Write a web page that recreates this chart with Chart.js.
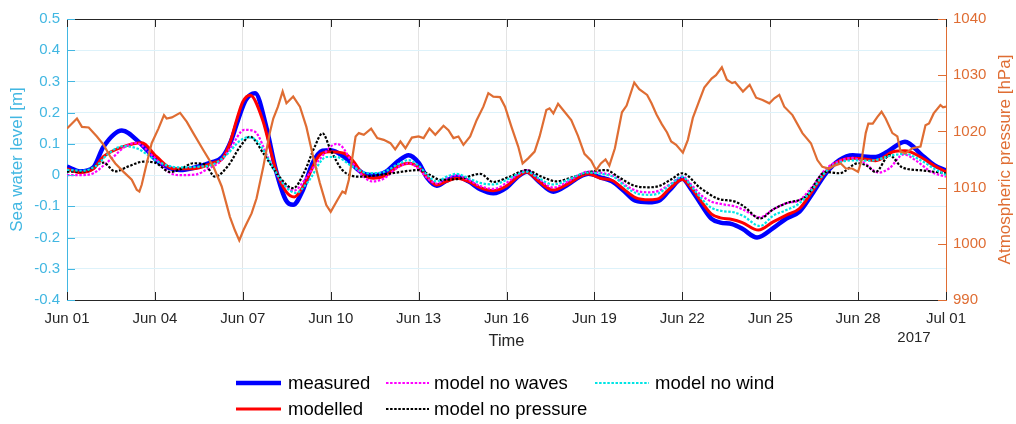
<!DOCTYPE html>
<html>
<head>
<meta charset="utf-8">
<title>Sea water level and atmospheric pressure, June 2017</title>
<script src="https://cdn.jsdelivr.net/npm/chart.js@4/dist/chart.umd.min.js"></script>
<style>
  html, body { margin: 0; padding: 0; background: #ffffff; }
  canvas { display: block; }
</style>
</head>
<body>
<canvas id="chart" width="1016" height="424"></canvas>
<script>
// Time axis: days since 1 June 2017
const xTickDays = [0, 3, 6, 9, 12, 15, 18, 21, 24, 27, 30];
const xTickLabels = ['Jun 01', 'Jun 04', 'Jun 07', 'Jun 10', 'Jun 13', 'Jun 16', 'Jun 19', 'Jun 22', 'Jun 25', 'Jun 28', 'Jul 01'];
const levelTicks = [-0.4, -0.3, -0.2, -0.1, 0, 0.1, 0.2, 0.3, 0.4, 0.5];
const levelTickLabels = ['-0.4', '-0.3', '-0.2', '-0.1', '0', '0.1', '0.2', '0.3', '0.4', '0.5'];
const pressureTicks = [990, 1000, 1010, 1020, 1030, 1040];
const pressureTickLabels = ['990', '1000', '1010', '1020', '1030', '1040'];

// Sea water level [m] as [day, level]
const measured = [[0,0.027],[0.45,0.012],[0.9,0.025],[1.24,0.09],[1.87,0.143],[2.5,0.102],[3.17,0.038],[3.86,0.016],[4.4,0.025],[4.9,0.04],[5.3,0.058],[5.6,0.11],[5.85,0.18],[6.1,0.24],[6.42,0.262],[6.8,0.155],[7.13,0.016],[7.47,-0.08],[7.72,-0.095],[8.04,-0.05],[8.38,0.038],[8.72,0.078],[9.0,0.08],[9.5,0.055],[10.1,0.006],[10.5,0.0],[10.9,0.012],[11.3,0.045],[11.66,0.064],[12.0,0.04],[12.3,-0.01],[12.62,-0.034],[12.95,-0.018],[13.3,-0.005],[13.7,-0.02],[14.1,-0.045],[14.55,-0.058],[15.0,-0.04],[15.35,-0.008],[15.7,0.011],[16.1,-0.02],[16.6,-0.053],[17.1,-0.03],[17.5,-0.005],[17.8,0.004],[18.2,-0.007],[18.6,-0.02],[19.0,-0.05],[19.4,-0.082],[19.85,-0.087],[20.2,-0.082],[20.55,-0.05],[21.0,-0.012],[21.3,-0.045],[21.65,-0.095],[22.0,-0.14],[22.3,-0.152],[22.7,-0.157],[23.05,-0.172],[23.55,-0.2],[24.1,-0.17],[24.55,-0.139],[25.0,-0.117],[25.45,-0.058],[25.9,0.006],[26.36,0.048],[26.82,0.064],[27.2,0.06],[27.6,0.058],[28.0,0.075],[28.6,0.107],[29.2,0.062],[29.6,0.032],[30,0.015]];
const modelled = [[0,0.02],[0.45,0.008],[0.9,0.02],[1.24,0.059],[1.92,0.091],[2.55,0.104],[3.06,0.059],[3.63,0.02],[4.3,0.02],[5.0,0.04],[5.3,0.052],[5.55,0.1],[5.8,0.18],[6.0,0.235],[6.25,0.256],[6.68,0.176],[7.13,0.016],[7.47,-0.052],[7.76,-0.07],[8.1,-0.03],[8.6,0.062],[8.95,0.075],[9.45,0.07],[9.74,0.048],[10.13,0.0],[10.47,-0.01],[10.9,0.0],[11.3,0.028],[11.66,0.038],[12.0,0.025],[12.28,-0.005],[12.62,-0.032],[12.95,-0.02],[13.3,-0.01],[13.7,-0.02],[14.1,-0.04],[14.55,-0.05],[15.0,-0.035],[15.35,-0.008],[15.68,0.01],[16.1,-0.02],[16.59,-0.048],[17.1,-0.028],[17.5,-0.005],[17.78,0.004],[18.2,-0.01],[18.63,-0.018],[19.0,-0.045],[19.4,-0.072],[19.87,-0.079],[20.2,-0.075],[20.55,-0.045],[21.0,-0.014],[21.3,-0.04],[21.65,-0.085],[22.0,-0.125],[22.3,-0.137],[22.7,-0.142],[23.05,-0.152],[23.6,-0.176],[24.1,-0.15],[24.55,-0.128],[25.0,-0.107],[25.45,-0.05],[25.9,0.011],[26.36,0.045],[26.82,0.054],[27.2,0.052],[27.6,0.046],[28.2,0.075],[28.6,0.078],[29.2,0.054],[29.6,0.03],[30,0.011]];
const modelNoWaves = [[0,0.0],[0.5,0.0],[0.9,0.006],[1.3,0.035],[1.6,0.06],[2.0,0.092],[2.35,0.103],[2.95,0.059],[3.5,0.008],[3.9,0.0],[4.4,0.002],[4.8,0.02],[5.22,0.043],[5.6,0.09],[6.05,0.145],[6.4,0.14],[6.9,0.048],[7.25,-0.01],[7.75,-0.05],[8.15,-0.01],[8.6,0.048],[9.2,0.1],[9.4,0.09],[9.7,0.045],[10.13,-0.005],[10.4,-0.02],[10.8,-0.012],[11.3,0.025],[11.66,0.038],[12.0,0.02],[12.3,-0.01],[12.62,-0.027],[12.95,-0.01],[13.3,0.0],[13.7,-0.015],[14.1,-0.035],[14.55,-0.044],[15.0,-0.025],[15.35,0.0],[15.68,0.016],[16.1,-0.012],[16.59,-0.04],[17.1,-0.02],[17.5,0.002],[17.78,0.011],[18.3,0.006],[18.7,-0.005],[19.1,-0.035],[19.5,-0.052],[19.87,-0.055],[20.2,-0.05],[20.6,-0.028],[21.0,-0.004],[21.3,-0.03],[21.65,-0.065],[22.0,-0.085],[22.35,-0.093],[22.8,-0.1],[23.1,-0.112],[23.65,-0.135],[24.1,-0.11],[24.55,-0.09],[25.0,-0.08],[25.45,-0.035],[25.9,0.02],[26.36,0.045],[26.82,0.055],[27.2,0.04],[27.7,0.008],[28.07,0.022],[28.55,0.066],[29.0,0.045],[29.5,0.01],[30,-0.005]];
const modelNoPressure = [[0,0.011],[0.6,0.012],[1.24,0.04],[1.64,0.012],[2.1,0.028],[2.6,0.043],[3.0,0.04],[3.52,0.01],[3.9,0.02],[4.3,0.038],[4.7,0.035],[5.05,-0.005],[5.5,0.03],[5.9,0.09],[6.25,0.123],[6.7,0.07],[7.2,0.0],[7.72,-0.042],[8.1,0.01],[8.45,0.09],[8.72,0.134],[9.0,0.08],[9.4,0.016],[10.0,-0.005],[11.0,0.005],[12.0,0.016],[12.4,0.0],[12.74,-0.015],[13.5,-0.01],[14.1,0.004],[14.55,-0.022],[15.1,-0.005],[15.68,0.016],[16.2,-0.005],[16.7,-0.02],[17.3,-0.005],[17.83,0.01],[18.4,0.016],[18.8,-0.005],[19.4,-0.035],[19.87,-0.039],[20.2,-0.035],[20.6,-0.015],[21.0,0.006],[21.6,-0.04],[22.2,-0.075],[22.8,-0.085],[23.1,-0.1],[23.65,-0.139],[24.1,-0.11],[24.55,-0.09],[25.2,-0.07],[25.9,0.01],[26.36,0.006],[27.0,0.038],[27.3,0.03],[27.6,0.01],[28.07,0.064],[28.5,0.025],[29.2,0.015],[30,0.006]];
const modelNoWind = [[0,0.017],[0.5,0.014],[1.0,0.03],[1.4,0.068],[1.92,0.093],[2.4,0.085],[3.17,0.04],[3.8,0.025],[4.5,0.027],[5.0,0.035],[5.5,0.07],[5.9,0.11],[6.2,0.121],[6.5,0.108],[7.0,0.03],[7.4,-0.03],[7.8,-0.057],[8.2,-0.025],[8.86,0.058],[9.2,0.058],[9.7,0.03],[10.3,0.006],[10.8,0.01],[11.3,0.035],[11.66,0.048],[12.0,0.03],[12.3,0.0],[12.62,-0.02],[12.95,-0.005],[13.3,0.004],[13.7,-0.01],[14.1,-0.025],[14.55,-0.03],[15.0,-0.015],[15.35,0.002],[15.68,0.011],[16.1,-0.01],[16.59,-0.03],[17.1,-0.015],[17.5,0.002],[17.78,0.008],[18.3,0.003],[18.7,-0.008],[19.1,-0.04],[19.5,-0.06],[19.87,-0.063],[20.2,-0.058],[20.6,-0.03],[21.0,-0.005],[21.3,-0.035],[21.65,-0.075],[22.0,-0.105],[22.35,-0.115],[22.8,-0.12],[23.1,-0.132],[23.65,-0.163],[24.1,-0.13],[24.55,-0.112],[25.0,-0.09],[25.45,-0.045],[25.9,0.011],[26.36,0.04],[26.82,0.047],[27.4,0.046],[28.2,0.064],[28.6,0.068],[29.2,0.044],[29.6,0.02],[30,0.0]];

// Atmospheric pressure [hPa] as [day, pressure]
const pressure = [[0,1020.5],[0.34,1022.3],[0.51,1020.8],[0.74,1020.7],[1.02,1019.1],[1.25,1017.6],[1.48,1015.5],[1.65,1014.3],[1.93,1012.8],[2.21,1011.4],[2.38,1009.6],[2.47,1009.3],[2.55,1010.5],[2.72,1014.3],[2.89,1017.9],[3.12,1020.5],[3.31,1022.9],[3.4,1022.3],[3.58,1022.5],[3.86,1023.3],[4.09,1021.7],[4.31,1019.7],[4.65,1016.7],[5.0,1013.7],[5.28,1010.2],[5.56,1004.8],[5.73,1002.4],[5.88,1000.6],[6.02,1002.4],[6.13,1003.6],[6.3,1005.4],[6.47,1008.1],[6.7,1013.7],[6.92,1019.7],[7.04,1022.3],[7.2,1024.4],[7.36,1027.1],[7.49,1025.0],[7.72,1026.2],[7.95,1024.4],[8.17,1020.8],[8.4,1015.5],[8.63,1010.8],[8.85,1006.9],[9.0,1005.7],[9.23,1007.8],[9.4,1009.3],[9.5,1009.0],[9.62,1011.4],[9.85,1019.1],[9.96,1019.7],[10.13,1019.4],[10.38,1020.5],[10.59,1018.8],[10.81,1018.5],[11.04,1017.9],[11.2,1016.8],[11.38,1018.2],[11.55,1017.0],[11.77,1018.9],[12.0,1019.1],[12.17,1018.8],[12.37,1020.5],[12.57,1019.4],[12.85,1021.0],[13.02,1020.2],[13.19,1018.8],[13.36,1019.1],[13.53,1017.6],[13.76,1019.1],[13.98,1022.0],[14.21,1024.4],[14.38,1026.8],[14.55,1026.2],[14.78,1026.1],[14.95,1024.4],[15.17,1020.8],[15.4,1017.3],[15.55,1014.3],[15.74,1015.2],[15.96,1016.4],[16.13,1019.1],[16.36,1023.8],[16.47,1024.1],[16.6,1023.2],[16.76,1024.9],[16.98,1023.5],[17.21,1022.0],[17.44,1019.2],[17.66,1016.0],[17.89,1014.8],[18.06,1013.1],[18.22,1014.3],[18.38,1015.0],[18.51,1013.9],[18.7,1017.0],[18.94,1023.4],[19.1,1024.6],[19.36,1028.7],[19.53,1027.5],[19.8,1026.5],[19.95,1025.0],[20.12,1023.0],[20.3,1021.3],[20.48,1019.8],[20.62,1018.2],[20.79,1017.6],[21.02,1016.2],[21.19,1018.5],[21.36,1022.4],[21.59,1025.6],[21.75,1027.8],[22.0,1029.4],[22.15,1030.0],[22.35,1031.4],[22.52,1029.2],[22.7,1028.6],[22.8,1028.8],[23.07,1027.1],[23.3,1028.3],[23.52,1026.0],[23.74,1025.6],[23.97,1025.0],[24.14,1025.9],[24.31,1026.5],[24.48,1024.4],[24.76,1022.9],[25.1,1019.7],[25.39,1017.9],[25.61,1014.9],[25.78,1013.7],[26.0,1013.4],[26.24,1014.0],[26.41,1014.3],[26.58,1013.4],[26.8,1013.4],[27.0,1012.8],[27.12,1014.9],[27.26,1019.7],[27.35,1021.4],[27.5,1021.4],[27.66,1022.6],[27.8,1023.5],[27.94,1022.3],[28.17,1019.7],[28.34,1019.1],[28.45,1016.4],[28.62,1016.1],[28.85,1017.0],[29.13,1017.3],[29.3,1021.1],[29.42,1021.4],[29.58,1023.2],[29.81,1024.7],[29.9,1024.3],[30,1024.4]];

const FONT = '"Liberation Sans", Arial, Helvetica, sans-serif';
const LEVEL_COLOR = '#42B7E2';
const PRESSURE_COLOR = '#DF6D33';
const AXIS_DARK = '#262626';
const DOT = [2.5, 1.6];

const toPoints = pairs => pairs.map(([x, y]) => ({ x, y }));
const labelFor = (values, labels, v) => labels[values.findIndex(t => Math.abs(t - v) < 1e-9)];

const seriesStyle = [
  { label: 'measured',          data: measured,        color: '#0000FF', width: 4.5, dash: [],  order: 6 },
  { label: 'modelled',          data: modelled,        color: '#FF0000', width: 3,   dash: [],  order: 5 },
  { label: 'model no waves',    data: modelNoWaves,    color: '#FF00FF', width: 2.2, dash: DOT, order: 4 },
  { label: 'model no pressure', data: modelNoPressure, color: '#000000', width: 2.2, dash: DOT, order: 3 },
  { label: 'model no wind',     data: modelNoWind,     color: '#00E5E5', width: 2.2, dash: DOT, order: 2 }
];

const datasets = seriesStyle.map(s => ({
  label: s.label,
  data: toPoints(s.data),
  borderColor: s.color,
  borderWidth: s.width,
  borderDash: s.dash,
  pointRadius: 0,
  fill: false,
  cubicInterpolationMode: 'monotone',
  yAxisID: 'y',
  order: s.order
}));
datasets.push({
  label: 'Atmospheric pressure',
  data: toPoints(pressure),
  borderColor: PRESSURE_COLOR,
  borderWidth: 2.2,
  pointRadius: 0,
  fill: false,
  tension: 0,
  yAxisID: 'y1',
  order: 1
});

// Inward tick marks, box top edge, axis titles and the legend block
const decorations = {
  id: 'decorations',
  afterDraw(chart) {
    const { ctx, chartArea: a, scales } = chart;
    const tl = 8;
    ctx.save();
    ctx.lineWidth = 1;

    // top edge of the box
    ctx.strokeStyle = AXIS_DARK;
    ctx.beginPath();
    ctx.moveTo(a.left, a.top + 0.5);
    ctx.lineTo(a.right, a.top + 0.5);
    ctx.stroke();

    // time ticks, bottom and top
    ctx.beginPath();
    scales.x.ticks.forEach(t => {
      const px = Math.round(scales.x.getPixelForValue(t.value)) + 0.5;
      ctx.moveTo(px, a.bottom); ctx.lineTo(px, a.bottom - tl);
      ctx.moveTo(px, a.top); ctx.lineTo(px, a.top + tl);
    });
    ctx.stroke();

    // sea level ticks
    ctx.strokeStyle = LEVEL_COLOR;
    ctx.beginPath();
    scales.y.ticks.forEach(t => {
      const py = Math.round(scales.y.getPixelForValue(t.value)) + 0.5;
      ctx.moveTo(a.left, py); ctx.lineTo(a.left + tl, py);
    });
    ctx.stroke();

    // pressure ticks
    ctx.strokeStyle = PRESSURE_COLOR;
    ctx.beginPath();
    scales.y1.ticks.forEach(t => {
      const py = Math.round(scales.y1.getPixelForValue(t.value)) + 0.5;
      ctx.moveTo(a.right, py); ctx.lineTo(a.right - tl, py);
    });
    ctx.stroke();

    // axis titles
    const midY = (a.top + a.bottom) / 2;
    ctx.textAlign = 'center';
    ctx.textBaseline = 'middle';
    ctx.fillStyle = AXIS_DARK;
    ctx.font = '16.5px ' + FONT;
    ctx.fillText('Time', (a.left + a.right) / 2, 341);
    ctx.font = '15px ' + FONT;
    ctx.fillText('2017', 914, 338);

    ctx.font = '17px ' + FONT;
    ctx.fillStyle = LEVEL_COLOR;
    ctx.save();
    ctx.translate(17, midY);
    ctx.rotate(-Math.PI / 2);
    ctx.fillText('Sea water level [m]', 0, 0);
    ctx.restore();

    ctx.fillStyle = PRESSURE_COLOR;
    ctx.save();
    ctx.translate(1005, midY);
    ctx.rotate(-Math.PI / 2);
    ctx.fillText('Atmospheric pressure [hPa]', 0, 0);
    ctx.restore();

    // legend: three columns, two rows
    const cols = [{ x0: 236, x1: 281, tx: 288 }, { x0: 386, x1: 429, tx: 434 }, { x0: 595, x1: 649, tx: 655 }];
    const rows = [383, 409];
    const slots = [[0, 0], [0, 1], [1, 0], [1, 1], [2, 0]];
    ctx.font = '18.5px ' + FONT;
    ctx.textAlign = 'left';
    seriesStyle.forEach((s, i) => {
      const [c, r] = slots[i];
      const col = cols[c], y = rows[r];
      ctx.strokeStyle = s.color;
      ctx.lineWidth = s.width;
      ctx.setLineDash(s.dash);
      ctx.beginPath();
      ctx.moveTo(col.x0, y);
      ctx.lineTo(col.x1, y);
      ctx.stroke();
      ctx.setLineDash([]);
      ctx.fillStyle = '#000000';
      ctx.fillText(s.label, col.tx, y + 1);
    });
    ctx.restore();
  }
};

new Chart(document.getElementById('chart'), {
  type: 'line',
  data: { datasets },
  plugins: [decorations],
  options: {
    responsive: false,
    animation: false,
    devicePixelRatio: 1,
    layout: { padding: { top: 19, left: 0, right: 0, bottom: 0 } },
    plugins: { legend: { display: false }, tooltip: { enabled: false } },
    scales: {
      x: {
        type: 'linear',
        min: 0,
        max: 30,
        afterBuildTicks: s => { s.ticks = xTickDays.map(v => ({ value: v })); },
        afterFit: s => { s.height = 124; },
        ticks: {
          callback: v => labelFor(xTickDays, xTickLabels, v),
          color: AXIS_DARK,
          font: { family: FONT, size: 15 },
          padding: 10,
          maxRotation: 0,
          autoSkip: false
        },
        grid: { color: '#E3E3E3', drawTicks: false },
        border: { color: AXIS_DARK }
      },
      y: {
        position: 'left',
        min: -0.4,
        max: 0.5,
        afterBuildTicks: s => { s.ticks = levelTicks.map(v => ({ value: v })); },
        afterFit: s => { s.width = 67; },
        ticks: {
          callback: v => labelFor(levelTicks, levelTickLabels, v),
          color: LEVEL_COLOR,
          font: { family: FONT, size: 15 },
          padding: 7
        },
        grid: { color: '#DDF2FA', drawTicks: false },
        border: { color: LEVEL_COLOR }
      },
      y1: {
        position: 'right',
        min: 990,
        max: 1040,
        afterBuildTicks: s => { s.ticks = pressureTicks.map(v => ({ value: v })); },
        afterFit: s => { s.width = 70; },
        ticks: {
          callback: v => labelFor(pressureTicks, pressureTickLabels, v),
          color: PRESSURE_COLOR,
          font: { family: FONT, size: 15 },
          padding: 7
        },
        grid: { display: false, drawTicks: false },
        border: { color: PRESSURE_COLOR }
      }
    }
  }
});
</script>
</body>
</html>
